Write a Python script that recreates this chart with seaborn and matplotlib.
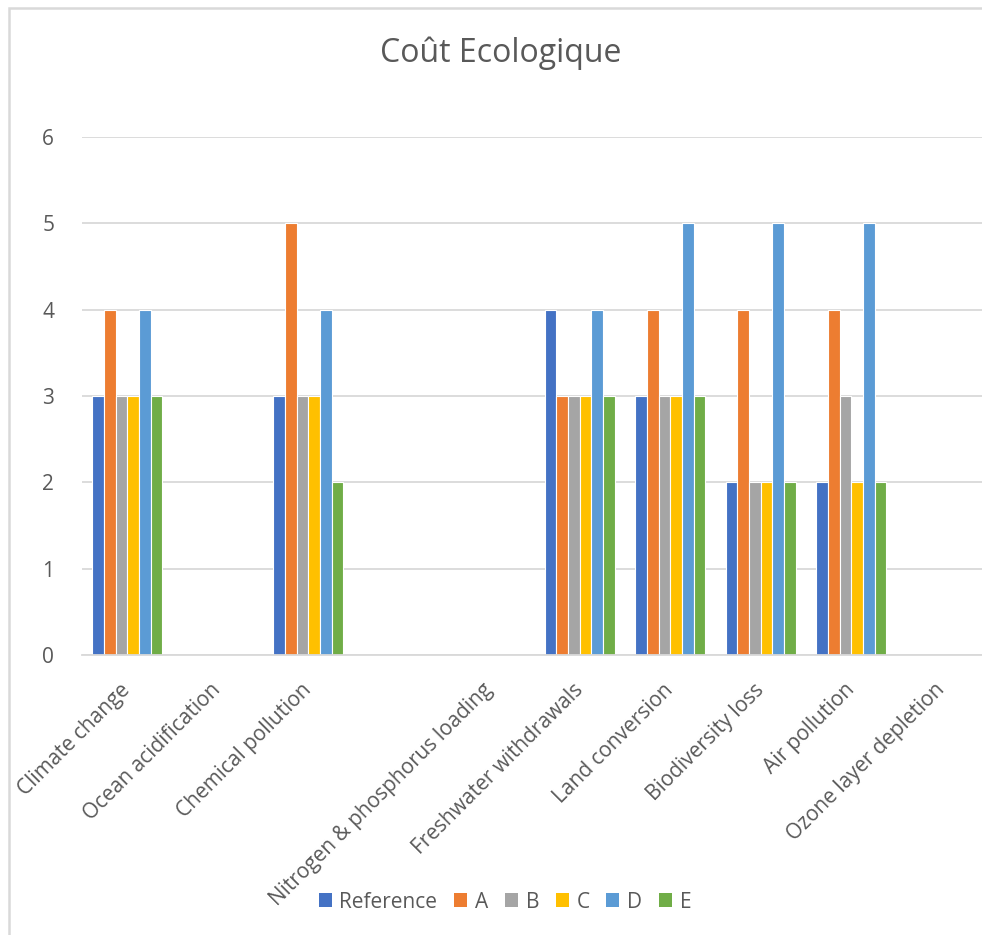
import numpy as np
import pandas as pd
import matplotlib
matplotlib.use("Agg")
import matplotlib.pyplot as plt
import matplotlib.patches as mpatches
import seaborn as sns

categories = ["Climate change", "Ocean acidification", "Chemical pollution", "",
              "Nitrogen & phosphorus loading", "Freshwater withdrawals",
              "Land conversion", "Biodiversity loss", "Air pollution",
              "Ozone layer depletion"]
series = ["Reference", "A", "B", "C", "D", "E"]
nan = np.nan
ref_vals = [3, nan, 3, nan, nan, 4, 3, 2, 2, nan]
a_vals   = [4, nan, 5, nan, nan, 3, 4, 4, 4, nan]
b_vals   = [3, nan, 3, nan, nan, 3, 3, 2, 3, nan]
c_vals   = [3, nan, 3, nan, nan, 3, 3, 2, 2, nan]
d_vals   = [4, nan, 4, nan, nan, 4, 5, 5, 5, nan]
e_vals   = [3, nan, 2, nan, nan, 3, 3, 2, 2, nan]
colors = ["#4472C4", "#ED7D31", "#A5A5A5", "#FFC000", "#5B9BD5", "#70AD47"]

rows = []
for s, vals in zip(series, [ref_vals, a_vals, b_vals, c_vals, d_vals, e_vals]):
    for c, v in zip(categories, vals):
        rows.append({"cat": c, "series": s, "value": v})
df = pd.DataFrame(rows)

sns.set_style("white")
plt.rcParams['font.family'] = ['Open Sans', 'DejaVu Sans']
txt = "#595959"
grid = "#D9D9D9"

W, H = 982, 935
fig = plt.figure(figsize=(W / 100, H / 100), dpi=100)
ax = fig.add_axes([82 / W, (H - 655) / H, 905 / W, 518 / H])

sns.barplot(data=df, x="cat", y="value", hue="series", order=categories,
            hue_order=series, palette=colors, width=0.774, errorbar=None,
            edgecolor="white", linewidth=0.8, saturation=1, ax=ax, legend=False)

ax.set_xlim(-0.5, len(categories) - 0.5)
ax.set_ylim(0, 6)
ax.set_yticks(range(0, 7))
ax.set_axisbelow(True)
ax.yaxis.grid(True, color=grid, linewidth=1.3)
ax.xaxis.grid(False)
for sp in ["top", "right", "left"]:
    ax.spines[sp].set_visible(False)
ax.spines["bottom"].set_color(grid)
ax.spines["bottom"].set_linewidth(1.3)
ax.set_xlabel("")
ax.set_ylabel("")
ax.tick_params(axis="y", length=0, pad=20, labelsize=15, labelcolor=txt)
ax.tick_params(axis="x", length=0, pad=23, labelsize=15, labelcolor=txt)
for lab in ax.get_xticklabels():
    lab.set_rotation(45)
    lab.set_ha("right")
    lab.set_va("center")
    lab.set_rotation_mode("anchor")

fig.text(501 / W, 1 - 53 / H, "Coût Ecologique", ha="center", va="center",
         fontsize=23, color=txt)

handles = [mpatches.Patch(facecolor=c, edgecolor="none", label=s)
           for s, c in zip(series, colors)]
fig.legend(handles=handles, loc="center", bbox_to_anchor=(505 / W, 1 - 902 / H),
           ncol=6, frameon=False, fontsize=15, labelcolor=txt,
           handlelength=0.62, handleheight=0.62, handletextpad=0.38,
           columnspacing=0.8, borderpad=0, borderaxespad=0)

border = mpatches.Rectangle((8.5 / W, -0.1), 1.2, 1 - 8.5 / H + 0.1,
                            transform=fig.transFigure, fill=False,
                            edgecolor=grid, linewidth=1.8)
fig.patches.append(border)

fig.savefig("out.png", dpi=100, facecolor="white")
